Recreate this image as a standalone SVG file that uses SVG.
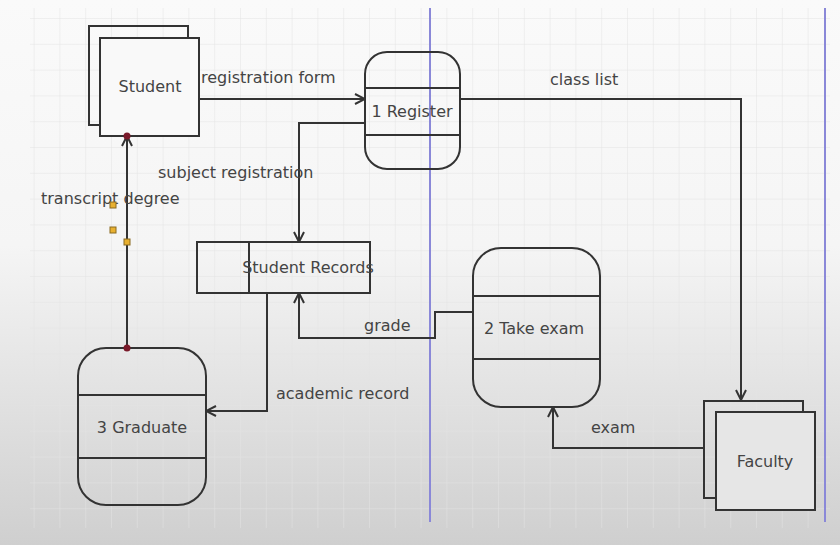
<svg xmlns="http://www.w3.org/2000/svg" width="840" height="545" viewBox="0 0 840 545">
<style>
.s{fill:none;stroke:#333;stroke-width:2}
.c{fill:none;stroke:#333;stroke-width:2;marker-end:url(#ah)}
.t{font-family:"DejaVu Sans",sans-serif;font-size:16px;fill:#444}
.m{text-anchor:middle}
.lane{stroke:#8a88d8;stroke-width:2}
</style>
<defs>
<linearGradient id="bg" x1="0" y1="0" x2="0" y2="1">
<stop offset="0" stop-color="#fafafa"/>
<stop offset="0.45" stop-color="#f5f5f5"/>
<stop offset="1" stop-color="#cfcfcf"/>
</linearGradient>
<pattern id="grid" x="7.8" y="18" width="25.8" height="25.8" patternUnits="userSpaceOnUse">
<path d="M0,0 H25.8 M0,0 V25.8" fill="none" stroke="#e4e4e4" stroke-width="1"/>
</pattern>
<marker id="ah" viewBox="0 0 12 12" refX="11" refY="6" markerWidth="12" markerHeight="12" markerUnits="userSpaceOnUse" orient="auto">
<path d="M1,1 L11,6 L1,11" fill="none" stroke="#333" stroke-width="2"/>
</marker>
</defs>
<rect width="840" height="545" fill="url(#bg)"/>
<rect x="30" y="8" width="800" height="520" fill="url(#grid)"/>
<g id="lanes">
<line class="lane" x1="430" y1="8" x2="430" y2="522"/>
<line class="lane" x1="825" y1="8" x2="825" y2="522"/>
</g>
<g id="student">
<rect class="s" x="89" y="26" width="99" height="99"/>
<rect class="s" x="100" y="38" width="99" height="98" style="fill:#f9f9f9"/>
<text class="t m" x="150" y="92">Student</text>
</g>
<g id="register">
<rect class="s" x="365" y="52" width="95" height="117" rx="22"/>
<line class="s" x1="365" y1="88" x2="460" y2="88"/>
<line class="s" x1="365" y1="135" x2="460" y2="135"/>
<text class="t m" x="412" y="117">1 Register</text>
</g>
<g id="student-records">
<rect class="s" x="197" y="242" width="173" height="51"/>
<line class="s" x1="249" y1="242" x2="249" y2="293"/>
<text class="t m" x="308" y="273">Student Records</text>
</g>
<g id="take-exam">
<rect class="s" x="473" y="248" width="127" height="159" rx="28"/>
<line class="s" x1="473" y1="296" x2="600" y2="296"/>
<line class="s" x1="473" y1="359" x2="600" y2="359"/>
<text class="t m" x="534" y="334">2 Take exam</text>
</g>
<g id="graduate">
<rect class="s" x="78" y="348" width="128" height="157" rx="28"/>
<line class="s" x1="78" y1="395" x2="206" y2="395"/>
<line class="s" x1="78" y1="458" x2="206" y2="458"/>
<text class="t m" x="142" y="433">3 Graduate</text>
</g>
<g id="faculty">
<rect class="s" x="704" y="401" width="99" height="97"/>
<rect class="s" x="716" y="412" width="99" height="98" style="fill:#e6e6e6"/>
<text class="t m" x="765" y="467">Faculty</text>
</g>
<g id="connectors">
<path class="c" d="M199,99 H365"/>
<text class="t" x="201" y="83">registration form</text>
<path class="c" d="M460,99 H741 V400"/>
<text class="t" x="550" y="85">class list</text>
<path class="c" d="M365,123 H299 V242"/>
<text class="t" x="158" y="178">subject registration</text>
<path class="c" d="M127,348 V136"/>
<text class="t" x="41" y="204">transcript degree</text>
<path class="c" d="M267,293 V411 H206"/>
<text class="t" x="276" y="399">academic record</text>
<path class="c" d="M473,312 H435 V338 H299 V293"/>
<text class="t" x="364" y="331">grade</text>
<path class="c" d="M704,448 H553 V407"/>
<text class="t" x="591" y="433">exam</text>
<circle cx="127" cy="136" r="3.5" fill="#7a1a2a"/>
<circle cx="127" cy="348" r="3.5" fill="#7a1a2a"/>
<rect x="110" y="202" width="6" height="6" fill="#e8b030" stroke="#8a6a20" stroke-width="1"/>
<rect x="110" y="227" width="6" height="6" fill="#e8b030" stroke="#8a6a20" stroke-width="1"/>
<rect x="124" y="239" width="6" height="6" fill="#e8b030" stroke="#8a6a20" stroke-width="1"/>
</g>
</svg>
